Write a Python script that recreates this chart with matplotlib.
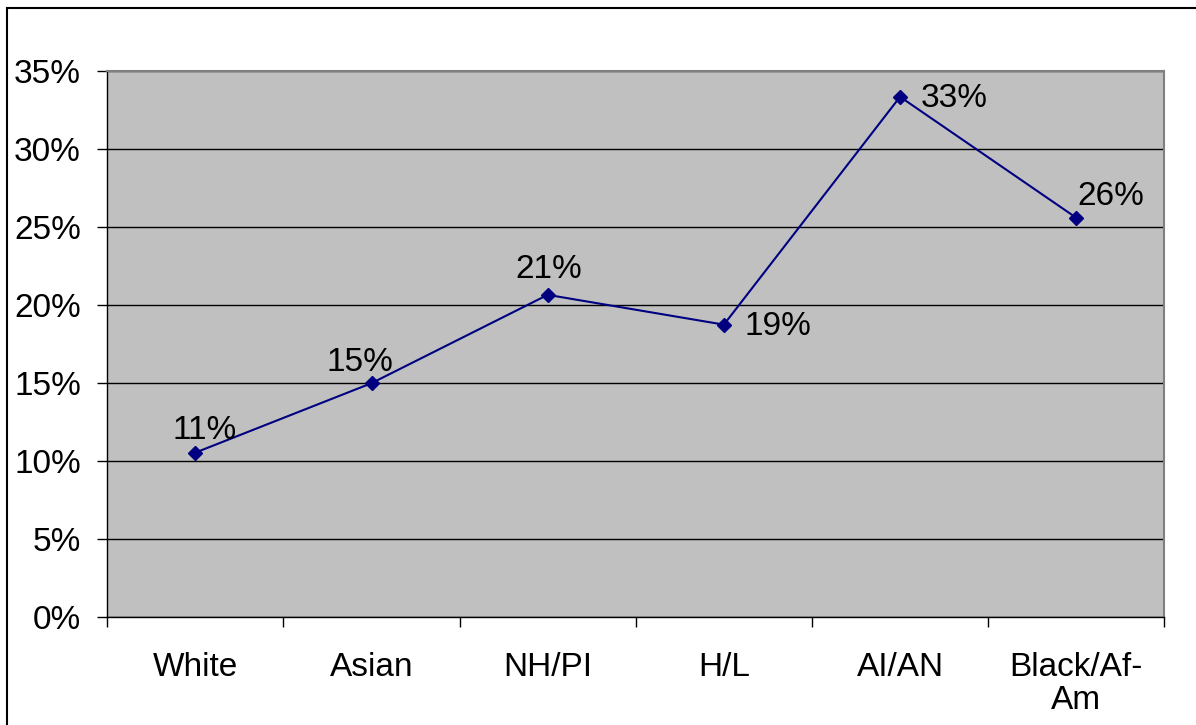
import numpy as np
import matplotlib
matplotlib.use("Agg")
import matplotlib.pyplot as plt
from matplotlib.patches import Rectangle
from matplotlib.ticker import FixedLocator

plt.rcParams["font.family"] = ["Liberation Sans", "DejaVu Sans"]

NAVY = "#000080"
PLOT_BG = "#C0C0C0"
FS = 24

groups = ["White", "Asian", "NH/PI", "H/L", "AI/AN", "Black/Af-\nAm"]
rates = [10.55, 15.0, 20.66, 18.75, 33.35, 25.6]
labels = ["11%", "15%", "21%", "19%", "33%", "26%"]
# label offsets in points from each marker
offs = [(7, 16), (-8, 15), (1, 18), (39, -1), (39, -1), (25, 15)]

fig = plt.figure(figsize=(11.96, 7.25), dpi=100)
ax = fig.add_axes([0.0897, 0.1486, 0.9735 - 0.0897, 0.902 - 0.1486])
ax.set_facecolor(PLOT_BG)

x = np.arange(len(groups))
ax.plot(x, rates, "-", color=NAVY, lw=1.5, marker="D", ms=7,
        markerfacecolor=NAVY, markeredgecolor=NAVY, zorder=3)
for xi, yi, t, (dx, dy) in zip(x, rates, labels, offs):
    ax.annotate(t, (xi, yi), textcoords="offset points", xytext=(dx, dy),
                ha="center", va="center", fontsize=FS, color="black")

ax.set_xlim(-0.5, len(groups) - 0.5)
ax.set_ylim(0, 35)
ax.set_yticks(np.arange(0, 36, 5))
ax.set_yticklabels([f"{v}%" for v in range(0, 36, 5)])
ax.yaxis.grid(True, color="black", lw=1)
ax.set_axisbelow(True)

ax.set_xticks(x)
ax.set_xticklabels(groups, linespacing=1.1)
ax.xaxis.set_minor_locator(FixedLocator(np.arange(-0.5, len(groups), 1)))
ax.tick_params(axis="x", which="major", length=0, pad=25, labelsize=FS)
ax.tick_params(axis="x", which="minor", length=7, width=1, color="black")
ax.tick_params(axis="y", length=7, width=1, pad=12, labelsize=FS)

for s in ["top", "right"]:
    ax.spines[s].set_color("#808080")
    ax.spines[s].set_linewidth(1.5)
for s in ["left", "bottom"]:
    ax.spines[s].set_color("black")
    ax.spines[s].set_linewidth(1)

# outer chart frame (cut off at right and bottom in the original)
fig.patches.append(Rectangle((7 / 1196, -0.1), 1.2, 0.1 + 1 - 8 / 725,
                             transform=fig.transFigure, fill=False,
                             edgecolor="black", lw=1.5))

fig.savefig("out.png", dpi=100)
